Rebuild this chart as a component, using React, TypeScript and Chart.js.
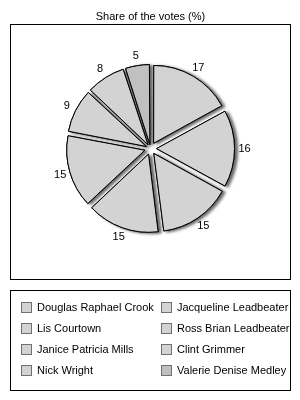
import React, { useEffect, useRef } from "react";
import { Chart, registerables } from "chart.js";

Chart.register(...registerables);

// ---- data ----
const candidates = [
  "Douglas Raphael Crook",
  "Jacqueline Leadbeater",
  "Lis Courtown",
  "Ross Brian Leadbeater",
  "Janice Patricia Mills",
  "Clint Grimmer",
  "Nick Wright",
  "Valerie Denise Medley",
];
const votes = [17, 16, 15, 15, 15, 9, 8, 5];
const titleText = "Share of the votes (%)";

// ---- styles ----
const FONT = "'Liberation Sans', Arial, sans-serif";
const sliceColors = [
  "#d3d3d3",
  "#d3d3d3",
  "#d3d3d3",
  "#d3d3d3",
  "#d3d3d3",
  "#d3d3d3",
  "#d3d3d3",
  "#c0c0c0",
];
const EXPLODE = 7;
const RADIUS = 77;

export default function App() {
  const ref = useRef<HTMLCanvasElement>(null);

  useEffect(() => {
    if (!ref.current) return;
    const total = votes.reduce((a, b) => a + b, 0);
    // Chart.js translates an arc by offset/4*(2 - sin(circ)); compensate to get a uniform explode distance
    const offsets = votes.map((v) => {
      const circ = (2 * Math.PI * v) / total;
      return (4 * EXPLODE) / (2 - Math.sin(Math.min(Math.PI, circ)));
    });

    const framePlugin = {
      id: "frames",
      beforeDraw(chart: any) {
        const ctx = chart.ctx;
        ctx.save();
        ctx.fillStyle = "#ffffff";
        ctx.fillRect(0, 0, chart.width, chart.height);
        ctx.strokeStyle = "#000000";
        ctx.lineWidth = 1;
        ctx.strokeRect(10.5, 24.5, 280, 255);
        ctx.strokeRect(10.5, 290.5, 280, 100);
        ctx.restore();
      },
      afterDraw(chart: any) {
        const ctx = chart.ctx;
        ctx.save();
        ctx.font = `11px ${FONT}`;
        ctx.textBaseline = "middle";
        ctx.textAlign = "left";
        candidates.forEach((name, i) => {
          const col = i % 2;
          const row = Math.floor(i / 2);
          const bx = col === 0 ? 21 : 161;
          const cy = 307 + row * 21;
          ctx.fillStyle = sliceColors[i];
          ctx.fillRect(bx, cy - 5, 11, 11);
          ctx.strokeStyle = "#707070";
          ctx.lineWidth = 1;
          ctx.strokeRect(bx + 0.5, cy - 4.5, 10, 10);
          ctx.fillStyle = "#000000";
          ctx.fillText(name, bx + 16, cy + 0.5);
        });
        ctx.restore();
      },
    };

    const shadowPlugin = {
      id: "sliceShadow",
      beforeDatasetsDraw(chart: any) {
        const meta = chart.getDatasetMeta(0);
        const ctx = chart.ctx;
        ctx.save();
        ctx.shadowColor = "rgba(0,0,0,0.6)";
        ctx.shadowBlur = 3;
        ctx.shadowOffsetX = 3;
        ctx.shadowOffsetY = 1;
        meta.data.forEach((arc: any) => arc.draw(ctx));
        ctx.restore();
      },
    };

    const labelPlugin = {
      id: "sliceLabels",
      afterDatasetsDraw(chart: any) {
        const meta = chart.getDatasetMeta(0);
        const ctx = chart.ctx;
        ctx.save();
        ctx.font = `11px ${FONT}`;
        ctx.fillStyle = "#000000";
        ctx.textAlign = "center";
        ctx.textBaseline = "middle";
        meta.data.forEach((arc: any, i: number) => {
          const p = arc.getProps(["x", "y", "startAngle", "endAngle", "outerRadius"], true);
          const mid = (p.startAngle + p.endAngle) / 2;
          const r = p.outerRadius + EXPLODE + 10;
          ctx.fillText(String(votes[i]), p.x + Math.cos(mid) * r, p.y + Math.sin(mid) * r);
        });
        ctx.restore();
      },
    };

    const chart = new Chart(ref.current, {
      type: "pie",
      data: {
        labels: candidates,
        datasets: [
          {
            data: votes,
            backgroundColor: sliceColors,
            borderColor: "#000000",
            borderWidth: 1,
            offset: offsets,
            hoverOffset: 0,
            radius: RADIUS,
          } as any,
        ],
      },
      options: {
        responsive: false,
        maintainAspectRatio: false,
        animation: false,
        devicePixelRatio: 1,
        layout: { padding: { top: 0, bottom: 126, left: 1, right: 0 } },
        plugins: {
          legend: { display: false },
          tooltip: { enabled: false },
          title: {
            display: true,
            text: titleText,
            color: "#000000",
            font: { family: FONT, size: 11, weight: "normal" },
            padding: { top: 10, bottom: 0 },
          },
        },
      } as any,
      plugins: [framePlugin, shadowPlugin, labelPlugin],
    });
    return () => chart.destroy();
  }, []);

  return (
    <div style={{ position: "absolute", left: 0, top: 0, width: 300, height: 400 }}>
      <canvas ref={ref} width={300} height={400} />
    </div>
  );
}
